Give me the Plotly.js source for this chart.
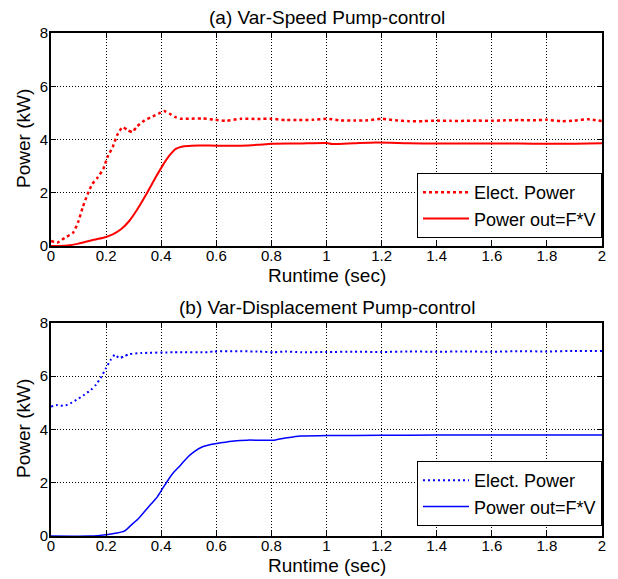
<!DOCTYPE html>
<html>
<head>
<meta charset="utf-8">
<script src="https://cdn.plot.ly/plotly-3.0.1.min.js"></script>
<style>html,body{margin:0;padding:0;background:#fff;}#chart{width:618px;height:579px;}</style>
</head>
<body>
<div id="chart"></div>
<script>
// (a) Var-Speed Pump-control
var tA_elect = [0,0.024,0.05,0.08,0.1,0.115,0.133,0.15,0.17,0.19,0.205,0.224,0.24,0.26,0.278,0.296,0.31,0.34,0.37,0.39,0.41,0.43,0.45,0.47,0.5,0.55,0.59,0.635,0.69,0.75,0.8,0.85,0.9,0.95,1.0,1.05,1.1,1.15,1.2,1.25,1.3,1.35,1.4,1.45,1.5,1.55,1.6,1.65,1.7,1.75,1.8,1.85,1.9,1.95,2.0];
var vA_elect = [0.19,0.13,0.31,0.5,0.94,1.45,1.95,2.33,2.58,2.9,3.34,3.72,4.16,4.47,4.35,4.28,4.47,4.72,4.87,4.97,5.07,4.97,4.85,4.78,4.78,4.79,4.75,4.7,4.78,4.77,4.78,4.73,4.73,4.74,4.78,4.72,4.71,4.72,4.78,4.72,4.69,4.69,4.71,4.7,4.7,4.71,4.7,4.72,4.73,4.72,4.74,4.69,4.71,4.76,4.69];
var tA_out = [0,0.06,0.1,0.145,0.19,0.224,0.254,0.284,0.314,0.35,0.38,0.405,0.43,0.453,0.478,0.51,0.6,0.69,0.75,0.8,0.9,1.0,1.02,1.1,1.18,1.3,1.4,1.5,1.6,1.7,1.8,1.9,2.0];
var vA_out = [0,0.02,0.09,0.21,0.31,0.44,0.63,0.94,1.39,2.02,2.58,3.02,3.4,3.65,3.74,3.77,3.77,3.77,3.8,3.84,3.85,3.87,3.83,3.86,3.89,3.86,3.85,3.85,3.85,3.85,3.84,3.84,3.86];
// (b) Var-Displacement Pump-control
var tB_elect = [0,0.024,0.048,0.072,0.097,0.12,0.145,0.163,0.18,0.2,0.217,0.232,0.248,0.266,0.284,0.326,0.447,0.568,0.59,0.75,0.81,0.85,0.906,1.0,1.1,1.2,1.3,1.4,1.5,1.6,1.7,1.8,1.9,2.0];
var vB_elect = [4.86,4.92,4.89,4.99,5.14,5.3,5.49,5.68,5.93,6.31,6.62,6.81,6.68,6.75,6.83,6.87,6.9,6.9,6.93,6.93,6.9,6.93,6.9,6.91,6.92,6.91,6.93,6.92,6.93,6.92,6.94,6.93,6.95,6.95];
var tB_out = [0,0.145,0.2,0.24,0.266,0.29,0.314,0.338,0.362,0.386,0.405,0.43,0.447,0.47,0.495,0.52,0.55,0.58,0.616,0.664,0.713,0.81,0.857,0.906,1.0,1.2,1.4,1.6,1.8,2.0];
var vB_out = [0,0,0.05,0.11,0.18,0.4,0.62,0.9,1.19,1.47,1.78,2.18,2.41,2.66,2.95,3.17,3.35,3.44,3.5,3.57,3.6,3.6,3.69,3.76,3.77,3.78,3.79,3.79,3.79,3.79];

var xTicks = [0,0.2,0.4,0.6,0.8,1,1.2,1.4,1.6,1.8,2];
var xTickText = ['0','0.2','0.4','0.6','0.8','1','1.2','1.4','1.6','1.8','2'];
var yTicks = [0,2,4,6,8];
var seriesNames = ['Elect. Power','Power out=F*V'];
var titles = ['(a) Var-Speed Pump-control','(b) Var-Displacement Pump-control'];
var xTitle = 'Runtime (sec)';
var yTitle = 'Power (kW)';

var FONT = 'Liberation Sans, Arial, Helvetica, sans-serif';

var traces = [
  {x:tA_elect, y:vA_elect, name:seriesNames[0], xaxis:'x', yaxis:'y', mode:'lines', line:{color:'#ff0000', width:2.5, dash:'3px,3px', shape:'spline', smoothing:0.5}, legend:'legend'},
  {x:tA_out, y:vA_out, name:seriesNames[1], xaxis:'x', yaxis:'y', mode:'lines', line:{color:'#ff0000', width:2, shape:'spline', smoothing:0.6}, legend:'legend'},
  {x:tB_elect, y:vB_elect, name:seriesNames[0], xaxis:'x2', yaxis:'y2', mode:'lines', line:{color:'#0000ff', width:2, dash:'2px,3px', shape:'spline', smoothing:0.5}, legend:'legend2'},
  {x:tB_out, y:vB_out, name:seriesNames[1], xaxis:'x2', yaxis:'y2', mode:'lines', line:{color:'#0000ff', width:1.5, shape:'spline', smoothing:0.6}, legend:'legend2'}
];

function xax(anchor){
  return {anchor:anchor, domain:[0,1], range:[0,2], tickvals:xTicks, ticktext:xTickText,
    showline:true, linecolor:'#000', linewidth:2, mirror:'ticks', ticks:'inside', ticklen:5, tickwidth:1, tickcolor:'#000',
    showgrid:true, gridcolor:'#000', gridwidth:1, griddash:'1px,2px', zeroline:false, ticklabelstandoff:-5,
    tickfont:{family:FONT, size:15, color:'#000'}, fixedrange:true};
}
function yax(anchor, dom){
  return {anchor:anchor, domain:dom, range:[0,8], tickvals:yTicks,
    showline:true, linecolor:'#000', linewidth:2, mirror:'ticks', ticks:'inside', ticklen:5, tickwidth:1, tickcolor:'#000',
    showgrid:true, gridcolor:'#000', gridwidth:1, griddash:'1px,2px', zeroline:false, ticklabelstandoff:-2,
    tickfont:{family:FONT, size:15, color:'#000'}, fixedrange:true};
}
function pyy(px){ return (536 - px)/503; }
function pxx(px){ return (px - 51)/551; }

var ann = [
  {text:titles[0], x:0.5, y:pyy(18)},
  {text:titles[1], x:0.5, y:pyy(307)},
  {text:xTitle, x:0.5, y:pyy(275)},
  {text:xTitle, x:0.5, y:pyy(565)},
  {text:yTitle, x:pxx(23), y:pyy(139), textangle:-90},
  {text:yTitle, x:pxx(23), y:pyy(429), textangle:-90}
].map(function(a){
  return Object.assign({xref:'paper', yref:'paper', xanchor:'center', yanchor:'middle', showarrow:false,
    font:{family:FONT, size:19, color:'#000'}}, a);
});

var legendStyle = {bgcolor:'#fff', bordercolor:'#000', borderwidth:1, font:{family:FONT, size:18, color:'#000'},
  xanchor:'right', yanchor:'bottom', x:1, tracegroupgap:0, itemwidth:46};

var layout = {
  width:618, height:579,
  margin:{l:51, r:16, t:33, b:43},
  paper_bgcolor:'#fff', plot_bgcolor:'#fff',
  showlegend:true,
  xaxis:xax('y'), yaxis:yax('x',[0.5765,1]),
  xaxis2:xax('y2'), yaxis2:yax('x2',[0,0.4235]),
  legend:Object.assign({}, legendStyle, {y:pyy(238)}),
  legend2:Object.assign({}, legendStyle, {y:pyy(526)}),
  annotations:ann
};

Plotly.newPlot('chart', traces, layout, {staticPlot:true, displayModeBar:false});
</script>
</body>
</html>
